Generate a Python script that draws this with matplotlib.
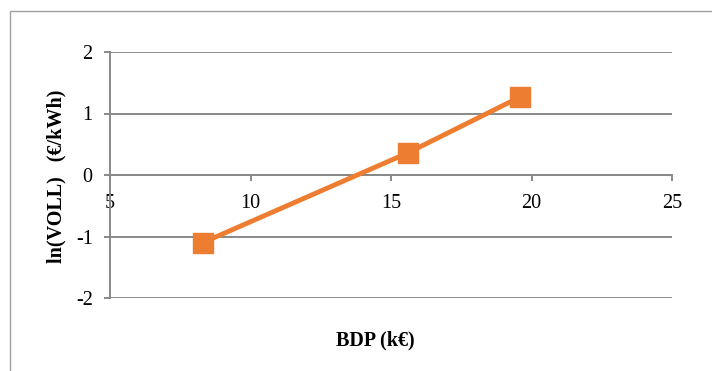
import matplotlib
matplotlib.use("Agg")
import matplotlib.pyplot as plt
from matplotlib.patches import Rectangle

# BDP (k€) against ln(VOLL)
bdp = [8.3, 15.6, 19.6]
ln_voll = [-1.1, 0.36, 1.27]
x_ticks = [5, 10, 15, 20, 25]
y_ticks = [-2, -1, 0, 1, 2]

GRID = "#898989"
ORANGE = "#ED7D31"

plt.rcParams["font.family"] = ["Liberation Serif", "DejaVu Serif"]

W, H = 712, 371
fig = plt.figure(figsize=(W / 100, H / 100), dpi=100)

# outer chart frame, open on the right and bottom
fig.patches.append(Rectangle((10 / W, -0.1), 1.2, 1 - 11 / H + 0.1,
                             transform=fig.transFigure, fill=False,
                             edgecolor="#A0A0A0", linewidth=1.0))

ax = fig.add_axes([110 / W, 1 - 298 / H, (672 - 110) / W, (298 - 52) / H])
ax.set_xlim(5, 25)
ax.set_ylim(-2, 2)

for y in y_ticks:
    ax.axhline(y, color=GRID, linewidth=1.4, zorder=1)

ax.plot(bdp, ln_voll, color=ORANGE, linewidth=3.5, marker="s",
        markersize=14, markerfacecolor=ORANGE, markeredgecolor=ORANGE,
        solid_joinstyle="round", zorder=3, clip_on=False)

for side in ["top", "right"]:
    ax.spines[side].set_visible(False)
ax.spines["left"].set_color(GRID)
ax.spines["left"].set_linewidth(1.4)
ax.spines["bottom"].set_position(("data", 0))
ax.spines["bottom"].set_color(GRID)
ax.spines["bottom"].set_linewidth(1.4)

ax.set_xticks(x_ticks)
ax.set_xticklabels([str(v) for v in x_ticks])
ax.set_yticks(y_ticks)
ax.set_yticklabels([str(v) for v in y_ticks])
ax.tick_params(axis="x", direction="out", length=4, width=1.4, color=GRID,
               pad=10, labelsize=14.5)
ax.tick_params(axis="y", direction="out", length=4.5, width=1.4, color=GRID,
               pad=8, labelsize=14.5)

fig.text(375 / W, 1 - 340 / H, "BDP (k€)", ha="center", va="center",
         fontsize=14.5, fontweight="bold")
fig.text(56 / W, 1 - 176 / H, "ln(VOLL)   (€/kWh)", ha="center", va="center",
         rotation=90, fontsize=14.5, fontweight="bold")

fig.savefig("out.png", dpi=100)
